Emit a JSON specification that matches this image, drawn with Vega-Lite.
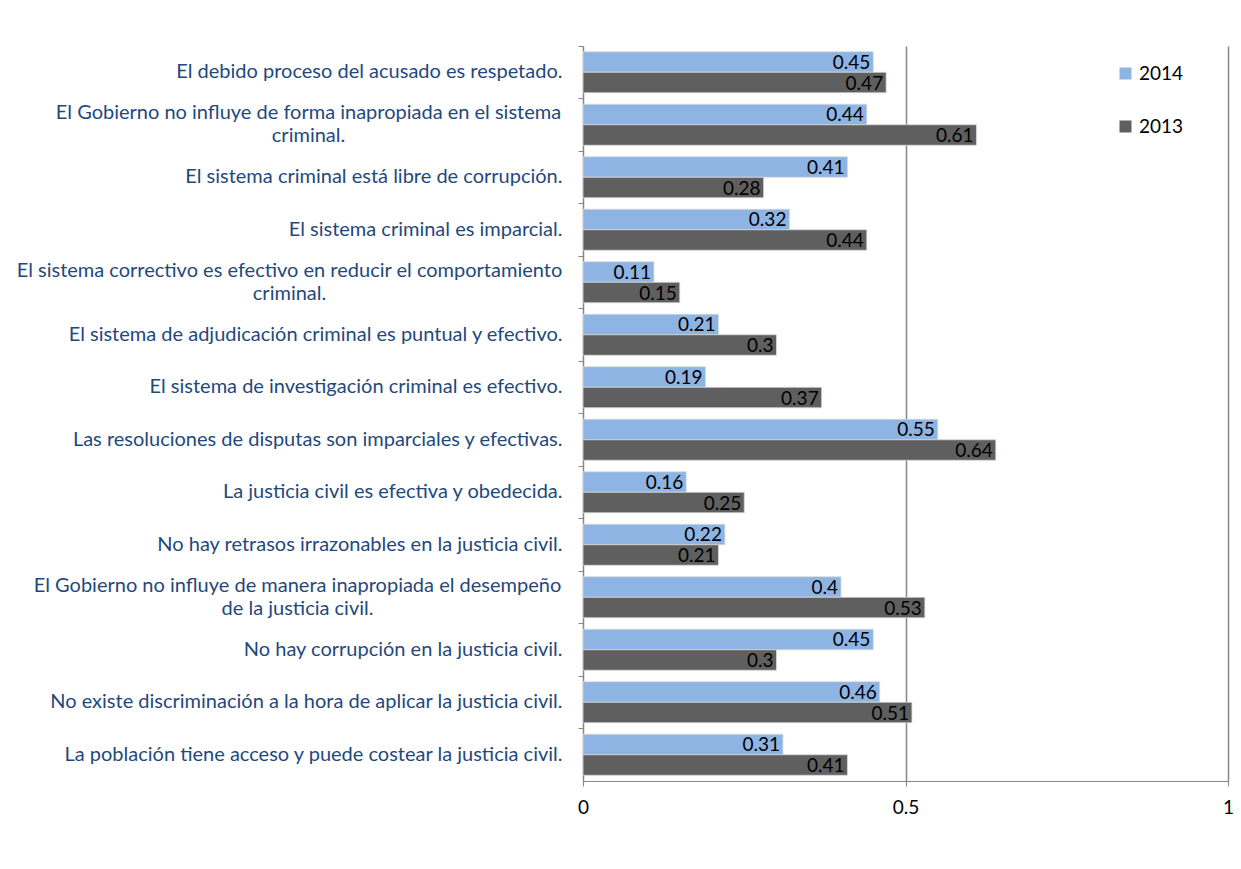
{
  "$schema": "https://vega.github.io/schema/vega-lite/v6.json",
  "autosize": "none",
  "width": 645,
  "height": 735,
  "padding": {"left": 583, "top": 46, "right": 13, "bottom": 88},
  "background": "white",
  "config": {
    "view": {"stroke": null},
    "font": "Lato"
  },
  "data": {
    "values": [
      {"cat": "El debido proceso del acusado es respetado. ", "year": "2014", "v": 0.45},
      {"cat": "El debido proceso del acusado es respetado. ", "year": "2013", "v": 0.47},
      {"cat": "El Gobierno no influye de forma inapropiada en el sistema|criminal.", "year": "2014", "v": 0.44},
      {"cat": "El Gobierno no influye de forma inapropiada en el sistema|criminal.", "year": "2013", "v": 0.61},
      {"cat": "El sistema criminal está libre de corrupción.", "year": "2014", "v": 0.41},
      {"cat": "El sistema criminal está libre de corrupción.", "year": "2013", "v": 0.28},
      {"cat": "El sistema criminal es imparcial.", "year": "2014", "v": 0.32},
      {"cat": "El sistema criminal es imparcial.", "year": "2013", "v": 0.44},
      {"cat": "El sistema correctivo es efectivo en reducir el comportamiento|criminal.", "year": "2014", "v": 0.11},
      {"cat": "El sistema correctivo es efectivo en reducir el comportamiento|criminal.", "year": "2013", "v": 0.15},
      {"cat": "El sistema de adjudicación criminal es puntual y efectivo.", "year": "2014", "v": 0.21},
      {"cat": "El sistema de adjudicación criminal es puntual y efectivo.", "year": "2013", "v": 0.3},
      {"cat": "El sistema de investigación criminal es efectivo.", "year": "2014", "v": 0.19},
      {"cat": "El sistema de investigación criminal es efectivo.", "year": "2013", "v": 0.37},
      {"cat": "Las resoluciones de disputas son imparciales y efectivas.", "year": "2014", "v": 0.55},
      {"cat": "Las resoluciones de disputas son imparciales y efectivas.", "year": "2013", "v": 0.64},
      {"cat": "La justicia civil es efectiva y obedecida.", "year": "2014", "v": 0.16},
      {"cat": "La justicia civil es efectiva y obedecida.", "year": "2013", "v": 0.25},
      {"cat": "No hay retrasos irrazonables en la justicia civil.", "year": "2014", "v": 0.22},
      {"cat": "No hay retrasos irrazonables en la justicia civil.", "year": "2013", "v": 0.21},
      {"cat": "El Gobierno no influye de manera inapropiada el desempeño|de la justicia civil.", "year": "2014", "v": 0.4},
      {"cat": "El Gobierno no influye de manera inapropiada el desempeño|de la justicia civil.", "year": "2013", "v": 0.53},
      {"cat": "No hay corrupción en la justicia civil.", "year": "2014", "v": 0.45},
      {"cat": "No hay corrupción en la justicia civil.", "year": "2013", "v": 0.3},
      {"cat": "No existe discriminación a la hora de aplicar la justicia civil.", "year": "2014", "v": 0.46},
      {"cat": "No existe discriminación a la hora de aplicar la justicia civil.", "year": "2013", "v": 0.51},
      {"cat": "La población tiene acceso y puede costear la justicia civil.", "year": "2014", "v": 0.31},
      {"cat": "La población tiene acceso y puede costear la justicia civil.", "year": "2013", "v": 0.41}
    ]
  },
  "encoding": {
    "y": {
      "field": "cat",
      "type": "nominal",
      "sort": null,
      "scale": {"paddingInner": 0, "paddingOuter": 0},
      "axis": {
        "title": null,
        "labelExpr": "split(datum.label, '|')",
        "labelLimit": 600,
        "labelFontSize": 20,
        "labelColor": "#1F497D",
        "labelAlign": {"condition": {"test": "indexof(datum.value, '|') >= 0", "value": "center"}, "value": "right"},
        "labelOffset": {"condition": {"test": "indexof(datum.value, '|') >= 0", "value": -11.5}, "value": 0},
        "labelPadding": {
          "condition": [
            {"test": "indexof(datum.value, 'forma inapropiada') >= 0", "value": 270},
            {"test": "indexof(datum.value, 'correctivo') >= 0", "value": 289},
            {"test": "indexof(datum.value, 'desempeño') >= 0", "value": 281}
          ],
          "value": 16
        },
        "labelLineHeight": 23,
        "domainColor": "#868686",
        "tickColor": "#868686",
        "tickSize": 5,
        "bandPosition": 0,
        "grid": false
      }
    },
    "yOffset": {
      "field": "year",
      "type": "nominal",
      "sort": ["2014", "2013"],
      "scale": {"paddingInner": 0, "paddingOuter": 0.28}
    },
    "x": {
      "field": "v",
      "type": "quantitative",
      "scale": {"domain": [0, 1], "nice": false},
      "axis": {
        "title": null,
        "values": [0, 0.5, 1],
        "format": "~g",
        "labelFontSize": 19,
        "labelColor": "#000000",
        "labelPadding": 12,
        "domainColor": "#868686",
        "tickColor": "#868686",
        "tickSize": 5,
        "gridColor": "#868686",
        "gridWidth": 1.5,
        "labelFlush": false
      }
    }
  },
  "layer": [
    {
      "mark": {"type": "bar", "stroke": "#d9d9d9", "strokeWidth": 0.8},
      "encoding": {
        "color": {
          "field": "year",
          "type": "nominal",
          "sort": ["2014", "2013"],
          "scale": {"domain": ["2014", "2013"], "range": ["#8DB4E2", "#5F5F5F"]},
          "legend": {
            "title": null,
            "orient": "none",
            "legendX": 533,
            "legendY": 18,
            "symbolType": "square",
            "symbolSize": 144,
            "symbolStrokeWidth": 0,
            "labelFontSize": 19,
            "labelColor": "#000000",
            "rowPadding": 33,
            "labelOffset": 4
          }
        }
      }
    },
    {
      "mark": {"type": "text", "align": "right", "baseline": "middle", "dx": -3, "dy": 1, "fontSize": 19, "color": "#000000"},
      "encoding": {
        "text": {"field": "v", "type": "quantitative", "format": ".2~f"}
      }
    }
  ]
}
